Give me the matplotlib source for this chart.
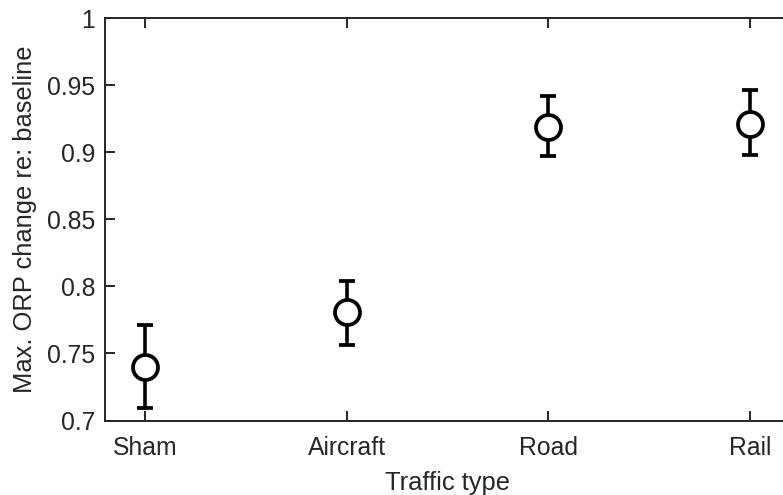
import matplotlib
matplotlib.use("Agg")
import matplotlib.pyplot as plt

plt.rcParams['font.family'] = ['Liberation Sans', 'DejaVu Sans']

categories = ['Sham', 'Aircraft', 'Road', 'Rail']
means = [0.740, 0.781, 0.919, 0.921]
upper = [0.771, 0.804, 0.942, 0.946]
lower = [0.709, 0.756, 0.897, 0.898]

ax_col = '#262626'

fig = plt.figure(figsize=(7.83, 4.95), dpi=100)
# axes runs a bit past the right edge of the figure, like the original
ax = fig.add_axes([105 / 783, 1 - 420.5 / 495, (790 - 105) / 783, (420.5 - 18) / 495])

x = list(range(1, len(categories) + 1))
yerr = [[m - l for m, l in zip(means, lower)], [u - m for m, u in zip(means, upper)]]
ax.errorbar(x, means, yerr=yerr, fmt='o', color='black', ecolor='black',
            elinewidth=2.6, capsize=5.8, capthick=2.6,
            markersize=18, markerfacecolor='white', markeredgecolor='black',
            markeredgewidth=2.7, zorder=3)

ax.set_xlim(0.8, 4.2)
ax.set_ylim(0.7, 1.0)
ax.set_xticks(x)
ax.set_xticklabels(categories)
ax.set_yticks([0.7, 0.75, 0.8, 0.85, 0.9, 0.95, 1.0])
ax.set_yticklabels(['0.7', '0.75', '0.8', '0.85', '0.9', '0.95', '1'])

ax.spines['right'].set_visible(False)
for s in ['left', 'bottom', 'top']:
    ax.spines[s].set_color(ax_col)
    ax.spines[s].set_linewidth(1.4)
ax.tick_params(direction='in', length=7, width=1.4, colors=ax_col,
               labelsize=17.8, labelcolor=ax_col, top=True, pad=7)
ax.tick_params(axis='x', pad=11)

ax.set_xlabel('Traffic type', fontsize=18.4, color=ax_col, labelpad=8)
ax.set_ylabel('Max. ORP change re: baseline', fontsize=18.4, color=ax_col, labelpad=7)

fig.savefig('out.png', dpi=100)
